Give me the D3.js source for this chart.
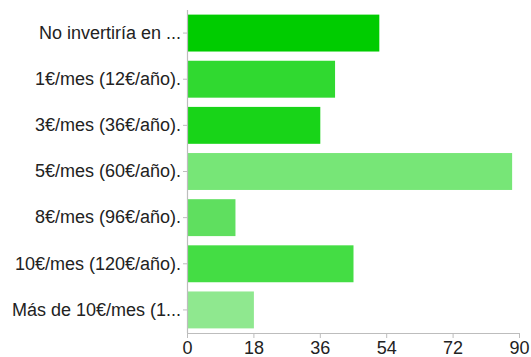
<!DOCTYPE html>
<html>
<head>
<meta charset="utf-8">
<script src="https://cdn.jsdelivr.net/npm/d3@7"></script>
<style>
  html, body { margin: 0; padding: 0; background: #fff; }
  svg { display: block; }
  text { font-family: "Liberation Sans", Arial, Helvetica, sans-serif; }
</style>
</head>
<body>
<script>
// Answer options, response counts and bar colours
const categories = [
  "No invertiría en ...",
  "1€/mes (12€/año).",
  "3€/mes (36€/año).",
  "5€/mes (60€/año).",
  "8€/mes (96€/año).",
  "10€/mes (120€/año).",
  "Más de 10€/mes (1..."
];
const counts = [52, 40, 36, 88, 13, 45, 18];
const barColors = ["#00cc00", "#30d930", "#18d418", "#77e677", "#5fdf5f", "#44dd44", "#8fe88f"];
const xTicks = [0, 18, 36, 54, 72, 90];

const width = 531, height = 357;
const margin = { top: 10, right: 12, bottom: 24, left: 187 };

const svg = d3.select("body").append("svg")
  .attr("width", width)
  .attr("height", height);

const x = d3.scaleLinear()
  .domain([0, 90])
  .range([margin.left, 519]);

const y = d3.scaleBand()
  .domain(categories)
  .range([margin.top, 333])
  .paddingInner(0.2)
  .paddingOuter(0.1);

// Bars
svg.append("g")
  .selectAll("rect")
  .data(categories)
  .join("rect")
  .attr("x", x(0) + 0.5)
  .attr("y", d => y(d))
  .attr("width", (d, i) => x(counts[i]) - x(0))
  .attr("height", y.bandwidth())
  .attr("fill", (d, i) => barColors[i]);

// Category axis
const yAxis = svg.append("g")
  .attr("transform", `translate(${x(0)},0)`)
  .call(d3.axisLeft(y).tickSize(4).tickPadding(2));
yAxis.select(".domain").attr("stroke", "#bdbdbd").attr("stroke-width", 1.2)
  .attr("d", `M0.5,${margin.top}V333`);
yAxis.selectAll(".tick line").attr("stroke", "#bdbdbd");
yAxis.selectAll(".tick text")
  .attr("fill", "#222")
  .style("font-size", "18px");

// Value axis
const xAxis = svg.append("g")
  .attr("transform", "translate(0,333)")
  .call(d3.axisBottom(x).tickValues(xTicks).tickSize(5).tickPadding(3));
xAxis.select(".domain").attr("stroke", "#bdbdbd").attr("stroke-width", 1.2)
  .attr("d", `M${x(0)},0.5H${x(90)}`);
xAxis.selectAll(".tick line").attr("stroke", "#bdbdbd");
xAxis.selectAll(".tick text")
  .attr("fill", "#222")
  .style("font-size", "18px");
</script>
</body>
</html>
